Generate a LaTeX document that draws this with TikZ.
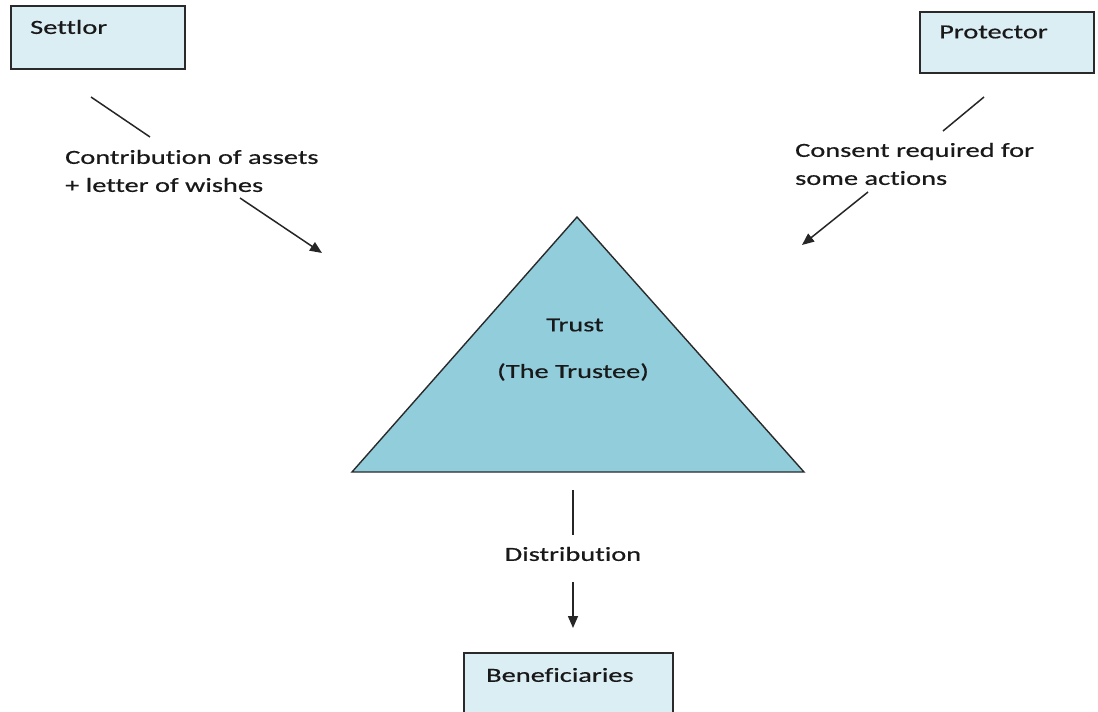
\documentclass[tikz,border=0pt]{standalone}
\usepackage{fontspec}
\setmainfont{Carlito}[Ligatures=NoCommon, FakeStretch=1.42, FakeBold=0.6]
\usetikzlibrary{arrows.meta}
\definecolor{boxfill}{HTML}{DBEEF4}
\definecolor{trifill}{HTML}{92CDDC}
\definecolor{edge}{HTML}{2A2A2A}
\tikzset{
  box/.style={draw=edge, line width=1.6pt, fill=boxfill},
  lbl/.style={inner sep=0pt, anchor=west, font=\fontsize{20}{28}\selectfont, text=black!90},
  conn/.style={draw=black!85, line width=1.5pt},
  arr/.style={conn, -{Triangle[length=12pt,width=10pt]}}
}
\begin{document}
\begin{tikzpicture}[x=1pt,y=-1pt]
\useasboundingbox (0,0) rectangle (1098,712);
% boxes
\path[box] (11,6) rectangle (185,69);
\node[lbl] (settlor) at (30,27) {Settlor};
\path[box] (920,12) rectangle (1094,73);
\node[lbl] (protector) at (939,32) {Protector};
\path[box] (464,653) rectangle (673,716);
\node[lbl] (benef) at (486,675) {Beneficiaries};
% triangle
\coordinate (tA) at (577,217);
\coordinate (tL) at (352,472);
\coordinate (tR) at (804,472);
\path[draw=edge, line width=1.4pt, fill=trifill] (tA) -- (tL) -- (tR) -- cycle;
\node[lbl, anchor=center] (trust) at (575,325) {Trust};
\node[lbl, anchor=center] (trustee) at (573,372) {(The Trustee)};
% settlor connector
\coordinate (s1) at (91,97);
\coordinate (s2) at (150,137);
\coordinate (s3) at (240,198);
\coordinate (s4) at (322,253);
\draw[conn] (s1) -- (s2);
\node[lbl, align=left] (contrib) at (65,171) {Contribution of assets\\+ letter of wishes};
\draw[arr] (s3) -- (s4);
% protector connector
\coordinate (p1) at (984,97);
\coordinate (p2) at (943,131);
\coordinate (p3) at (868,192);
\coordinate (p4) at (802,245);
\draw[conn] (p1) -- (p2);
\node[lbl, align=left] (consent) at (795,164) {Consent required for\\some actions};
\draw[arr] (p3) -- (p4);
% distribution connector
\coordinate (d1) at (573,490);
\coordinate (d2) at (573,535);
\coordinate (d3) at (573,582);
\coordinate (d4) at (573,628);
\draw[conn] (d1) -- (d2);
\node[lbl, anchor=center] (distr) at (573,554) {Distribution};
\draw[arr] (d3) -- (d4);
\end{tikzpicture}
\end{document}
